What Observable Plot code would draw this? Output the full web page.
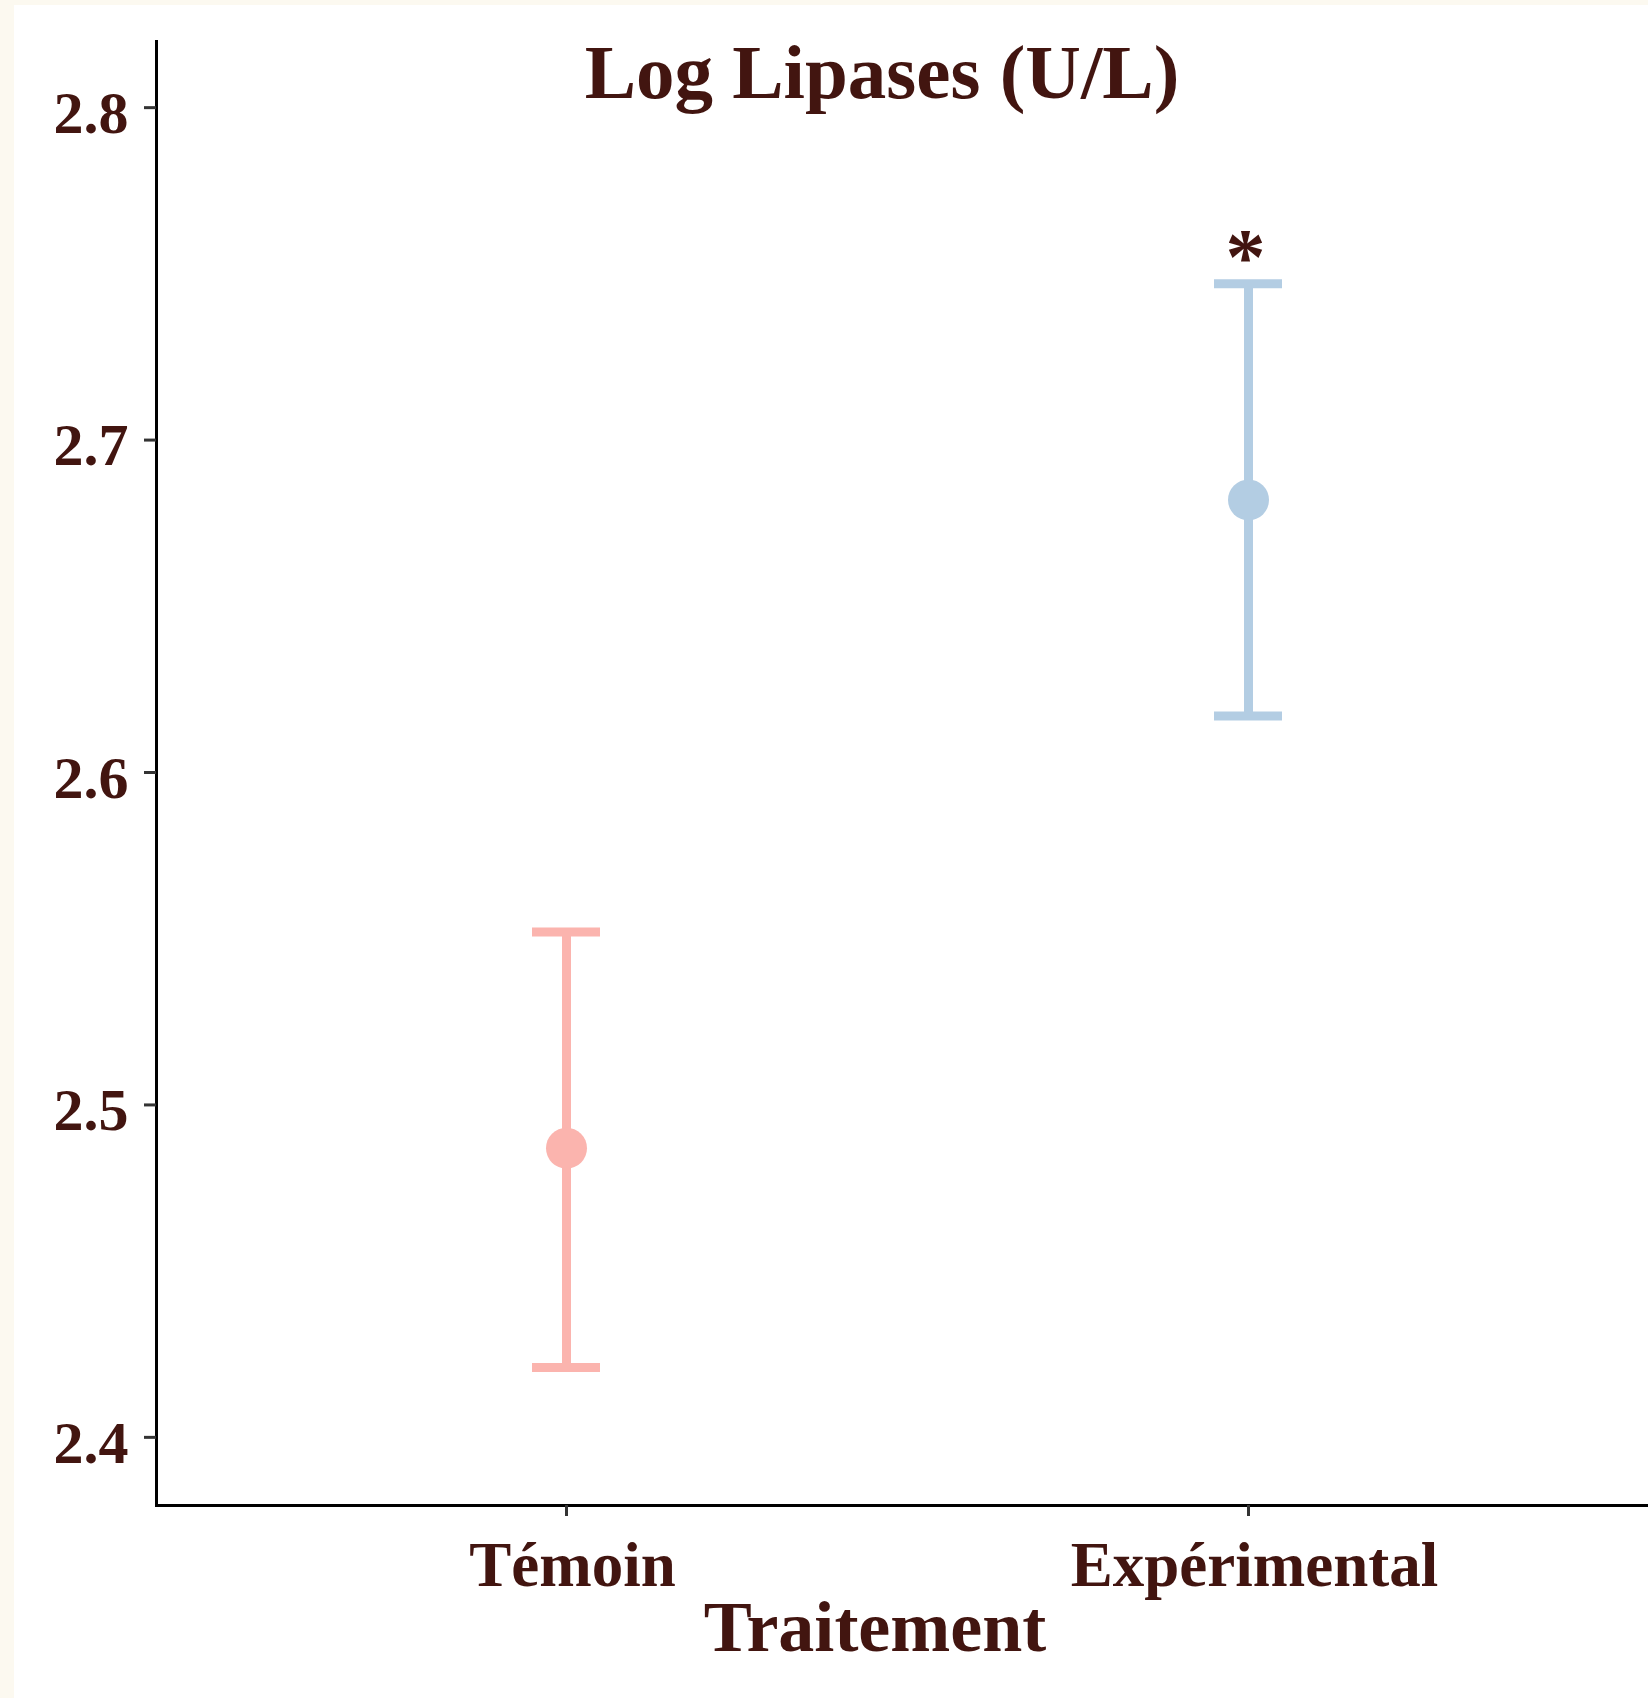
<!DOCTYPE html>
<html>
<head>
<meta charset="utf-8">
<script src="https://cdn.jsdelivr.net/npm/d3@7"></script>
<script src="https://cdn.jsdelivr.net/npm/@observablehq/plot@0.6"></script>
<style>
  html, body { margin: 0; padding: 0; }
  body { background: #fcf9f0; width: 1648px; height: 1698px; position: relative; overflow: hidden; font-family: "Liberation Serif", serif; }
  #panel { position: absolute; left: 14px; top: 5px; width: 1634px; height: 1693px; background: #ffffff; }
  .lbl { position: absolute; font-family: "Liberation Serif", serif; font-weight: bold; color: #421510; line-height: 1; white-space: nowrap; transform: translateX(-50%); }
  #title { font-size: 77px; left: 882px; top: 34px; }
  #xlabel { font-size: 72px; left: 875px; top: 1591px; }
</style>
</head>
<body>
<div id="panel"></div>
<div id="title" class="lbl">Log Lipases (U/L)</div>
<div id="xlabel" class="lbl">Traitement</div>
<script>
// Data
const groups = ["Témoin", "Expérimental"];
const means = [2.487, 2.682];
const lower = [2.421, 2.617];
const upper = [2.552, 2.747];
const signif = ["", "*"];
const groupColors = ["#fbb4ae", "#b3cde3"];
const yTicks = [2.4, 2.5, 2.6, 2.7, 2.8];
const yDomain = [2.3795, 2.8199];

const rows = groups.map((g, i) => ({group: g, mean: means[i], lo: lower[i], hi: upper[i], sig: signif[i]}));
const sigRows = rows.filter(d => d.sig !== "");

const textColor = "#421510";

const chart = Plot.plot({
  width: 1634,
  height: 1693,
  marginLeft: 142,
  marginRight: 0,
  marginTop: 36,
  marginBottom: 193,
  style: {fontFamily: "Liberation Serif", fontWeight: "bold", background: "transparent", overflow: "visible"},
  x: {type: "band", domain: groups, range: [518, 1268], paddingInner: 0.9003, paddingOuter: 0},
  y: {domain: yDomain},
  color: {domain: groups, range: groupColors},
  marks: [
    Plot.frame({anchor: "left", stroke: "#000", strokeWidth: 3}),
    Plot.frame({anchor: "bottom", stroke: "#000", strokeWidth: 3}),
    // y tick marks (no labels)
    Plot.axisY(yTicks, {tickSize: 12, stroke: "#333", strokeWidth: 3, fill: "none", label: null, tickFormat: () => ""}),
    // y tick labels (nudged down slightly)
    Plot.axisY(yTicks, {tickSize: 0, tickPadding: 28, fontSize: 60, fill: textColor, label: null, tickFormat: d3.format(".1f"), dy: 6}),
    // x tick marks (no labels)
    Plot.axisX({tickSize: 11, stroke: "#333", strokeWidth: 3, fill: "none", label: null, tickFormat: () => ""}),
    // x tick labels (nudged right slightly)
    Plot.axisX({tickSize: 0, tickPadding: 36, fontSize: 63, fill: textColor, label: null, dx: 6}),
    Plot.ruleX(rows, {x: "group", y1: "lo", y2: "hi", stroke: "group", strokeWidth: 9}),
    Plot.tickY(rows, {x: "group", y: "hi", stroke: "group", strokeWidth: 9}),
    Plot.tickY(rows, {x: "group", y: "lo", stroke: "group", strokeWidth: 9}),
    Plot.dot(rows, {x: "group", y: "mean", fill: "group", r: 20.5}),
    Plot.text(sigRows, {x: "group", y: "hi", text: "sig", fontSize: 80, fill: textColor, lineAnchor: "bottom", dx: -3})
  ]
});
document.getElementById("panel").appendChild(chart);
</script>
</body>
</html>
